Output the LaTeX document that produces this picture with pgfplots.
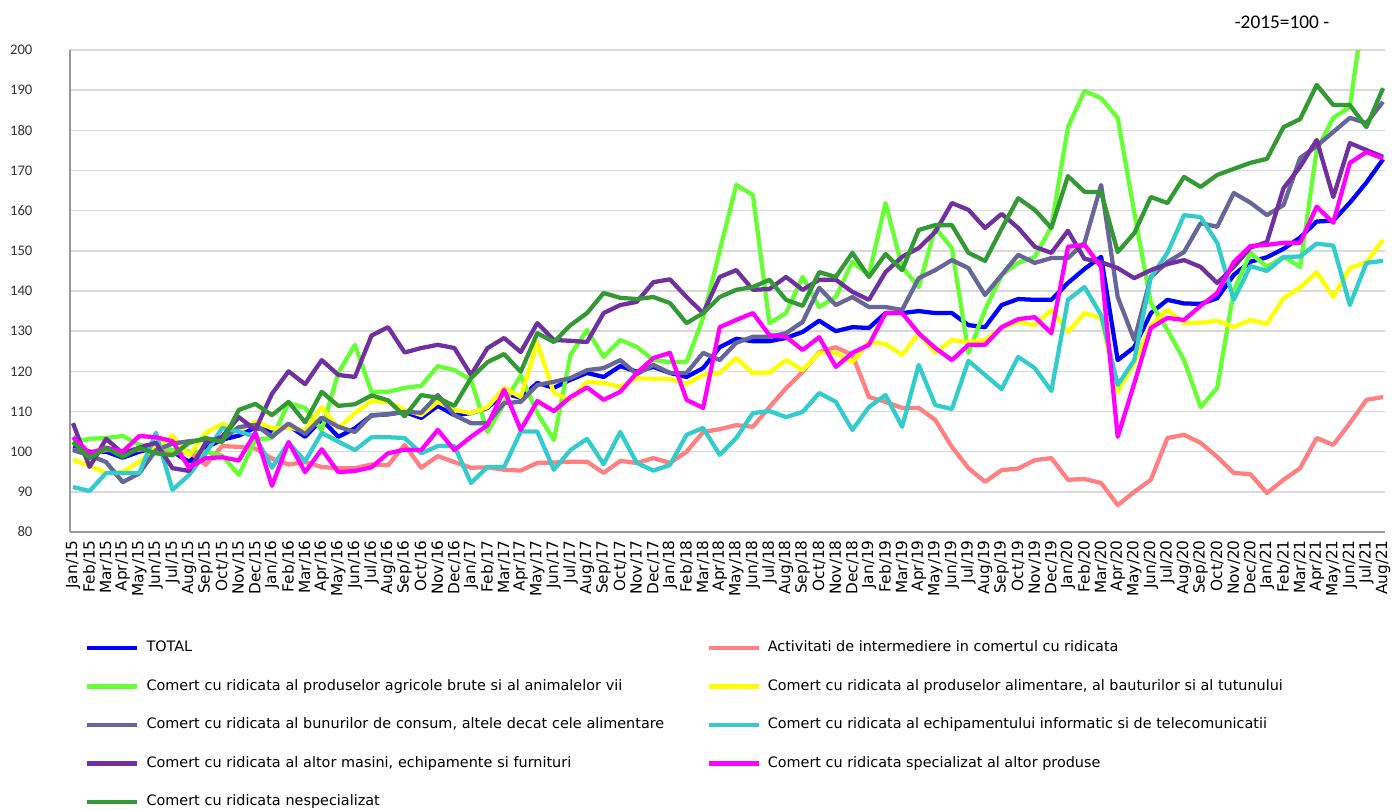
\documentclass[border=0pt]{standalone}
\usepackage{fontspec}
\setmainfont{DejaVu Sans}
\newfontfamily\carlito{Carlito}
\usepackage{pgfplots}
\usepackage{pgfplotstable}
\pgfplotsset{compat=1.18}
\definecolor{cTotal}{HTML}{0000FF}
\definecolor{cInter}{HTML}{FF8080}
\definecolor{cAgri}{HTML}{66FF33}
\definecolor{cAlim}{HTML}{FFFF00}
\definecolor{cCons}{HTML}{666699}
\definecolor{cInfo}{HTML}{33CCCC}
\definecolor{cMas}{HTML}{7030A0}
\definecolor{cSpec}{HTML}{FF00FF}
\definecolor{cNesp}{HTML}{339933}
\definecolor{gridc}{HTML}{D9D9D9}

\pgfplotstableread{
x total inter agri alim cons info mas spec nesp
0 101 100.5 102.4 98 100.4 91.2 107.1 103.6 102.4
1 100 99 103.2 96.5 99.1 90.2 96.2 99.6 98.4
2 100 100.5 103.4 94.7 97.4 94.7 103.2 101 100.9
3 98.5 100 103.9 95 92.4 94.7 99.6 100 98.7
4 100 100.5 101.7 97.5 94.6 94.7 101 103.9 100.9
5 101 101 101.5 101 100.4 104.7 102.2 103.6 99.6
6 100 99.5 100.4 104 102 90.5 95.9 102.6 99.1
7 97.5 100 100 99 102.6 94.2 95.2 96 102.2
8 101 96.7 100 104.7 103 99.6 102.2 98.4 103.4
9 103 101.4 99 106.9 103 105.9 103.7 98.6 102.4
10 104 101.2 94.2 105.5 106.1 105 108.6 97.8 110.4
11 106 100.8 103 107.5 106.7 103.7 105.4 104.7 111.9
12 105 98.3 103.4 105.8 103.7 96 114.4 91.5 109.1
13 106.5 96.8 112.1 106 107 102.2 120 102.4 112.4
14 103.7 97.4 110.9 105.2 104.4 97.6 116.8 94.9 107.3
15 108 96.2 105.4 111.1 108.5 104.7 122.8 100.6 114.9
16 103.7 95.9 119.6 105.8 106.2 102.5 119.1 94.9 111.4
17 105.8 95.9 126.6 109.6 104.9 100.4 118.6 95.2 111.8
18 109 96.8 114.9 112.6 109.1 103.6 128.9 96.1 114
19 109.3 96.6 114.9 112.4 109.3 103.6 131 99.6 112.8
20 109.9 101.7 115.9 110.4 109.9 103.4 124.7 100.5 108.8
21 108.4 96 116.4 109.1 109.7 99.6 125.8 100.4 114.1
22 111.4 98.9 121.3 112.4 114.1 101.4 126.6 105.4 113.4
23 109.1 97.4 120.3 110.4 109.1 101.4 125.8 100.4 111.4
24 109.6 96 117.9 109.6 107.1 92.2 119.1 103.7 118.3
25 110.9 96.1 104.9 111.1 107.1 96.2 125.8 106.6 122.3
26 114.6 95.5 112 115.9 112.1 96.2 128.3 115.4 124.3
27 113.4 95.3 119 113.6 112.4 105 124.8 105.4 119.9
28 117.1 97.2 109.6 127.1 116.6 105 132 112.6 129.5
29 115.9 97.3 102.9 114.6 117.4 95.5 127.8 110.1 127.3
30 117.9 97.5 124.1 112.9 118.3 100.4 127.6 113.6 131.5
31 119.6 97.5 130.3 117.4 120.3 103.2 127.3 116 134.5
32 118.6 94.7 123.6 117.1 120.8 96.9 134.5 112.9 139.5
33 121.3 97.7 127.8 116.1 122.8 104.9 136.5 114.9 138.3
34 119.9 97.2 126.1 118.3 119.3 97.2 137.3 119.6 138
35 121.1 98.4 122.8 118.1 121.6 95.3 142.2 123.3 138.5
36 119.6 97.2 122.3 118.1 119.6 96.7 142.9 124.6 137
37 118.6 100 122.3 116.9 119.6 104.2 138.5 112.9 132
38 120.8 104.9 133.3 119.1 124.6 105.9 134.5 110.9 134.5
39 126 105.6 150 119.6 122.8 99.2 143.5 131 138.5
40 128.1 106.6 166.4 123.3 127.1 103.4 145.2 132.8 140.3
41 127.5 106.2 163.9 119.6 128.6 109.6 140.3 134.5 141
42 127.5 111.1 132 119.7 128.6 110.1 140.5 129 142.8
43 128.3 115.8 134.5 122.8 129.5 108.6 143.5 128.6 137.8
44 129.8 119.9 143.5 120.3 132.3 109.9 140.3 125.3 136.3
45 132.6 124.8 136 124.6 140.8 114.6 142.8 128.5 144.7
46 130 126 138.5 124.6 136.5 112.4 142.8 121.1 143.5
47 131 124.1 147.2 122.3 138.5 105.4 139.8 124.6 149.5
48 130.8 113.6 144 127.3 136 111.1 137.8 126.6 143.5
49 134.5 112.4 161.9 126.8 136 114.1 144.7 134.5 149.2
50 134.5 110.9 146 124.1 135.3 106.2 148.5 134.5 145.2
51 135 110.9 141 129.5 143.2 121.6 150.7 129.5 155.2
52 134.5 107.9 155.7 124.6 145.2 111.6 154.7 125.8 156.4
53 134.5 101.2 150.7 127.8 147.7 110.6 161.9 122.8 156.4
54 131.5 95.9 124.6 127.3 145.7 122.6 160.2 126.6 149.5
55 131 92.5 135.3 127.8 139 119.1 155.7 126.6 147.5
56 136.5 95.4 144 130.8 144 115.6 159.2 131 155.5
57 138 95.8 147 132.3 149 123.6 155.7 133 163.1
58 137.8 97.9 148.5 131.5 147 120.8 151 133.5 160.2
59 137.8 98.4 156 135.3 148.2 115.1 149.5 129.5 155.7
60 142 93 180.8 129.8 148.2 137.8 155 151 168.6
61 145.5 93.2 189.8 134.5 152 141 148 151.5 164.7
62 148.5 92.2 188 133.3 166.4 134 147.2 146 164.6
63 122.8 86.7 183.1 114.9 138.5 116.6 145.7 103.7 149.7
64 126 90 159.5 122.1 127.8 122.8 143.2 117 154.4
65 134.5 93 137 131.5 143.5 143.5 145.2 130.8 163.4
66 137.8 103.4 130.3 135.3 147.2 149.5 146.7 133.3 161.9
67 136.9 104.2 122.8 132 149.7 158.9 147.7 132.8 168.4
68 136.8 102.2 111.1 132.1 156.9 158.4 146 136.3 165.9
69 138.2 98.7 115.9 132.6 156 152 142 139.5 168.9
70 144 94.7 140 131 164.4 137.8 146 147.2 170.4
71 147.3 94.4 149.5 132.8 162 146.2 150.8 151.2 171.9
72 148.4 89.7 146 131.8 158.9 145 152.2 151.5 172.9
73 150.5 93 148.5 138.2 161.4 148.4 165.6 152 180.8
74 153.3 95.9 146 140.8 173.1 148.6 170.9 152 182.8
75 157.3 103.4 175.1 144.7 176.1 151.8 177.6 161 191.3
76 157.5 101.7 183.1 138.5 179.6 151.3 163.4 157 186.3
77 162 107.1 185.8 145.7 183.1 136.5 176.8 171.9 186.3
78 167 112.9 215 147.2 181.8 147 175.1 174.6 180.8
79 172.8 113.6 215 152.7 187.1 147.5 173.4 173 190.5
}\data

\begin{document}
\begin{tikzpicture}
\path[use as bounding box] (0,0) rectangle (1044pt,606pt);
\begin{axis}[
  at={(52.5pt,207pt)}, anchor=south west,
  scale only axis, width=986.25pt, height=361.5pt,
  xmin=-0.18, xmax=79.12, ymin=80, ymax=200,
  ytick={80,90,...,200},
  xtick={0,...,79},
  xticklabels={Jan/15,Feb/15,Mar/15,Apr/15,May/15,Jun/15,Jul/15,Aug/15,Sep/15,Oct/15,Nov/15,Dec/15,
    Jan/16,Feb/16,Mar/16,Apr/16,May/16,Jun/16,Jul/16,Aug/16,Sep/16,Oct/16,Nov/16,Dec/16,
    Jan/17,Feb/17,Mar/17,Apr/17,May/17,Jun/17,Jul/17,Aug/17,Sep/17,Oct/17,Nov/17,Dec/17,
    Jan/18,Feb/18,Mar/18,Apr/18,May/18,Jun/18,Jul/18,Aug/18,Sep/18,Oct/18,Nov/18,Dec/18,
    Jan/19,Feb/19,Mar/19,Apr/19,May/19,Jun/19,Jul/19,Aug/19,Sep/19,Oct/19,Nov/19,Dec/19,
    Jan/20,Feb/20,Mar/20,Apr/20,May/20,Jun/20,Jul/20,Aug/20,Sep/20,Oct/20,Nov/20,Dec/20,
    Jan/21,Feb/21,Mar/21,Apr/21,May/21,Jun/21,Jul/21,Aug/21},
  xticklabel style={rotate=90, anchor=east, inner sep=0pt, font=\fontsize{11.5}{12}\selectfont},
  xticklabel shift=6pt,
  yticklabel style={anchor=east, inner sep=0pt, font=\carlito\fontsize{11}{12}\selectfont, text=black!80},
  yticklabel shift=28pt,
  /pgf/number format/assume math mode=true,
  major tick length=0pt,
  axis x line*=bottom, axis y line*=left,
  axis line style={draw=black!40, line width=0.9pt},
  ymajorgrids, grid style={draw=gridc, line width=1.2pt},
  every axis plot/.append style={line width=3.2pt, line join=round, mark=none},
  legend columns=2,
  legend cell align=left,
  legend image code/.code={\draw[#1] (0pt,0pt) -- (37.5pt,0pt);},
  legend style={at={(0.00837,-0.2200)}, anchor=north west, draw=none, fill=none,
    font=\fontsize{10.8}{12}\selectfont,
    column sep=5.25pt, row sep=18.4pt,
    nodes={inner sep=0pt, outer sep=0pt, text height=8pt, text depth=2.5pt},
    /tikz/column 2/.style={text width=414.75pt}},
]
\addplot[cTotal] table[x=x,y=total] {\data};
\addlegendentry{TOTAL}
\addplot[cInter] table[x=x,y=inter] {\data};
\addlegendentry{Activitati de intermediere in comertul cu ridicata}
\addplot[cAgri] table[x=x,y=agri] {\data};
\addlegendentry{Comert cu ridicata al produselor agricole brute si al animalelor vii}
\addplot[cAlim] table[x=x,y=alim] {\data};
\addlegendentry{Comert cu ridicata al produselor alimentare, al bauturilor si al tutunului}
\addplot[cCons] table[x=x,y=cons] {\data};
\addlegendentry{Comert cu ridicata al bunurilor de consum, altele decat cele alimentare}
\addplot[cInfo] table[x=x,y=info] {\data};
\addlegendentry{Comert cu ridicata al echipamentului informatic si de telecomunicatii}
\addplot[cMas] table[x=x,y=mas] {\data};
\addlegendentry{Comert cu ridicata al altor masini, echipamente si furnituri}
\addplot[cSpec] table[x=x,y=spec] {\data};
\addlegendentry{Comert cu ridicata specializat al altor produse}
\addplot[cNesp] table[x=x,y=nesp] {\data};
\addlegendentry{Comert cu ridicata nespecializat}
\end{axis}
\node[font=\carlito\fontsize{14.5}{15}\selectfont, anchor=center] at (961.5pt,589.5pt) {-2015=100 -};
\end{tikzpicture}
\end{document}
